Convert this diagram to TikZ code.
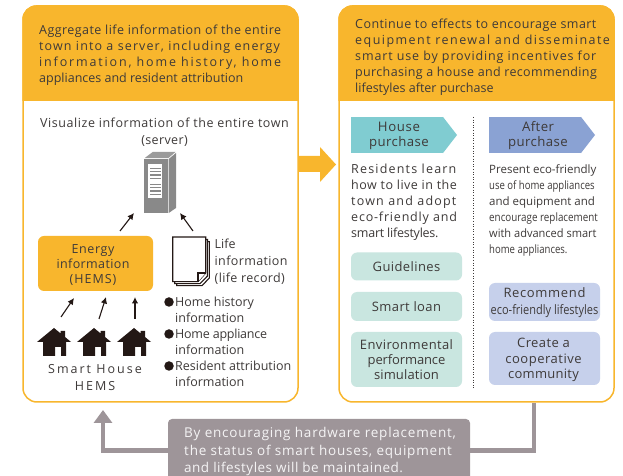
\documentclass[tikz,border=0pt]{standalone}
\usepackage{fontspec}
\setmainfont{Open Sans}
\usetikzlibrary{positioning,arrows,arrows.meta,shapes.geometric}
\definecolor{orangefill}{HTML}{F8B62D}
\definecolor{greyfill}{HTML}{9E9599}
\definecolor{tealfill}{HTML}{80CCD1}
\definecolor{bluefill}{HTML}{8AA2D3}
\definecolor{mintfill}{HTML}{C9E6E0}
\definecolor{paleblue}{HTML}{C6D0EB}
\definecolor{inkcol}{HTML}{3E3A39}
\definecolor{housecol}{HTML}{231815}
\definecolor{servercol}{HTML}{898989}
\def\ls#1#2{{\addfontfeature{LetterSpace=#1}#2}}
\def\nw#1#2{{\addfontfeature{FakeStretch=#1}#2}}
\tikzset{
  panel/.style={draw=orangefill,line width=1.5bp,fill=white,rounded corners=14bp,minimum width=275bp,minimum height=396bp},
  txt/.style={inner sep=0pt,text=inkcol,font=\fontsize{12.5bp}{16bp}\selectfont},
  tag/.style={inner sep=0pt,text=inkcol,align=center,font=\fontsize{12.5bp}{15bp}\selectfont},
  stage/.style={tag,font=\fontsize{13.2bp}{15bp}\selectfont},
  softbox/.style={tag,rounded corners=6bp,minimum width=111bp,font=\fontsize{13bp}{15bp}\selectfont},
  feedback/.style={line width=4.5bp,draw=greyfill},
  smallarrow/.style={-{Latex[length=6.5bp,width=6.5bp]},line width=1.1bp,draw=housecol},
  sheet/.style={draw=housecol,line width=1.1bp,fill=white},
}
\def\smarthouse#1{%
  \begin{scope}[shift={(#1)}]
    \fill[housecol] (-17bp,6bp) -- (0bp,20bp) -- (6.7bp,14.5bp) -- (6.7bp,17bp) -- (11bp,17bp) -- (11bp,11bp) -- (17bp,6bp) -- (12bp,6bp) -- (12bp,-8bp) -- (7bp,-8bp) -- (7bp,1bp) -- (1bp,1bp) -- (1bp,-8bp) -- (-11bp,-8bp) -- (-11bp,6bp) -- cycle;
  \end{scope}}
\begin{document}
\begin{tikzpicture}
  \useasboundingbox (0bp,0bp) rectangle (623bp,476bp);
  %% panels
  \node (leftpanel) at (160.5bp,272bp) [panel] {};
  \node (rightpanel) at (476.5bp,272bp) [panel] {};
  \fill[orangefill] (22.25bp,375bp) [rounded corners=14bp] -- (22.25bp,470.75bp) -- (298.75bp,470.75bp) [sharp corners] -- (298.75bp,375bp) -- cycle;
  \fill[orangefill] (338.25bp,375bp) [rounded corners=14bp] -- (338.25bp,470.75bp) -- (614.75bp,470.75bp) [sharp corners] -- (614.75bp,375bp) -- cycle;
  %% arrow between the panels
  \fill[orangefill] (298bp,304bp) -- (320bp,304bp) -- (320bp,294bp) -- (336bp,311.5bp) -- (320bp,329bp) -- (320bp,320bp) -- (298bp,320bp) -- cycle;
  %% header texts
  \node (lefthead) at (39bp,421bp) [txt,anchor=west,align=left] {%
    \ls{3.6}{Aggregate life information of the entire}\\
    \ls{8.9}{town into a server, including energy}\\
    \ls{14.7}{information, home history, home}\\
    \ls{0}{appliances and resident attribution}};
  \node (righthead) at (355bp,419bp) [txt,anchor=west,align=left] {%
    \ls{3.5}{Continue to effects to encourage smart}\\
    \ls{11.6}{equipment renewal and disseminate}\\
    \ls{6.9}{smart use by providing incentives for}\\
    \ls{2.8}{purchasing a house and recommending}\\
    \ls{0}{lifestyles after purchase}};
  %% left panel
  \node (townlabel) at (164.5bp,343.5bp) [tag,font=\fontsize{12.5bp}{17bp}\selectfont] {\ls{4.4}{Visualize information of the entire town}\\\ls{3}{(server)}};
  \fill[servercol] (144bp,263bp) rectangle (167.7bp,317bp);
  \fill[servercol] (168.7bp,263bp) -- (176bp,268bp) -- (176bp,323bp) -- (168.7bp,317bp) -- cycle;
  \fill[servercol!85] (144.5bp,317.8bp) -- (168.2bp,317.8bp) -- (175.5bp,324bp) -- (152.7bp,324bp) -- cycle;
  \node (server) at (155.2bp,295bp) [fill=white,inner sep=0pt,minimum width=13.8bp,minimum height=34bp] {};
  \foreach \y in {307.5,304.3,301,297.8,291.5,288.3,285,281.8}
    \draw[servercol,line width=1.3bp] (150bp,\y bp) -- (160.7bp,\y bp);
  \coordinate (serverl) at (134bp,263bp);
  \coordinate (serverr) at (180bp,263bp);
  \coordinate (energyfrom) at (120bp,245bp);
  \coordinate (lifefrom) at (193bp,245bp);
  \draw[smallarrow] (energyfrom) -- (serverl);
  \draw[smallarrow] (lifefrom) -- (serverr);
  \node (energy) at (95.5bp,212.5bp) [fill=orangefill,rounded corners=6bp,minimum width=115bp,minimum height=55bp,inner sep=0pt] {};
  \node (energylabel) at (93bp,211bp) [tag] {\ls{5}{Energy}\\\ls{3}{information}\\\ls{8}{(HEMS)}};
  %% life record sheets
  \draw[sheet] (176.7bp,190.3bp) -- (202bp,190.3bp) -- (209.3bp,198bp) -- (209.3bp,234.3bp) -- (176.7bp,234.3bp) -- cycle;
  \draw[sheet] (174.7bp,192.3bp) -- (200bp,192.3bp) -- (207.5bp,200bp) -- (207.5bp,236.5bp) -- (174.7bp,236.5bp) -- cycle;
  \draw[sheet] (172.7bp,194.3bp) -- (198bp,194.3bp) -- (205.7bp,203bp) -- (205.7bp,239bp) -- (172.7bp,239bp) -- cycle;
  \draw[sheet] (198bp,194.3bp) -- (198bp,203bp) -- (205.7bp,203bp);
  \node (lifelabel) at (214.5bp,214bp) [txt,anchor=west,align=left,font=\fontsize{12.5bp}{17bp}\selectfont] {Life\\\ls{3}{information}\\\ls{3}{(life record)}};
  \node (bullets) at (175bp,134bp) [txt,anchor=west,align=left] {%
    Home history\\information\\\ls{-2}{Home appliance}\\information\\Resident attribution\\information};
  \foreach \y/\name in {174/hist,142/appl,110/attr}
    \node (\name) at (169bp,\y bp) [circle,fill=housecol,inner sep=0pt,minimum size=9.5bp] {};
  \foreach \x/\y/\tx/\ty/\name in {61/159/74/178/a,99/157/106/179/b,135/157/135/179/c}{
    \coordinate (house\name) at (\x bp,\y bp);
    \coordinate (hems\name) at (\tx bp,\ty bp);
    \draw[smallarrow] (house\name) -- (hems\name);
  }
  \smarthouse{54bp,128bp}
  \smarthouse{94bp,128bp}
  \smarthouse{134bp,128bp}
  \node (smarthems) at (95bp,98.5bp) [tag,font=\fontsize{12.5bp}{17bp}\selectfont] {\ls{16}{Smart House}\\\ls{16}{HEMS}};
  %% right panel
  \draw[inkcol,line width=1bp,dash pattern=on 1bp off 1.6bp] (473bp,359bp) -- (473bp,88bp);
  \node (housepurchase) at (351bp,341bp) [anchor=west,fill=tealfill,minimum height=36bp,minimum width=92bp,inner sep=0pt] {};
  \fill[tealfill] ([xshift=-0.5bp]housepurchase.north east) -- (457bp,341bp) -- ([xshift=-0.5bp]housepurchase.south east) -- cycle;
  \node (afterpurchase) at (489bp,341bp) [anchor=west,fill=bluefill,minimum height=36bp,minimum width=92bp,inner sep=0pt] {};
  \fill[bluefill] ([xshift=-0.5bp]afterpurchase.north east) -- (595bp,341bp) -- ([xshift=-0.5bp]afterpurchase.south east) -- cycle;
  \node (housetag) at (399bp,340.5bp) [stage] {\ls{5}{House}\\\ls{3}{purchase}};
  \node (aftertag) at (538bp,340.5bp) [stage] {\ls{3}{After}\\\ls{3}{purchase}};
  \node (housetext) at (351bp,274bp) [txt,anchor=west,align=left] {%
    \ls{9.5}{Residents learn}\\
    \ls{4}{how to live in the}\\
    \ls{9.5}{town and adopt}\\
    \ls{6.5}{eco-friendly and}\\
    \ls{-2}{smart lifestyles.}};
  \node (aftertext) at (489bp,266bp) [txt,anchor=west,align=left,font=\fontsize{11.5bp}{16bp}\selectfont] {%
    Present eco-friendly\\
    \nw{0.83}{use of home appliances}\\
    and equipment and\\
    \nw{0.855}{encourage replacement}\\
    \nw{0.96}{with advanced smart}\\
    \nw{0.83}{home appliances.}};
  \node (guide) at (406.5bp,209.5bp) [softbox,fill=mintfill,minimum height=28bp] {\ls{3}{Guidelines}};
  \node (loan) at (406.5bp,169.5bp) [softbox,fill=mintfill,minimum height=29bp] {\ls{3}{Smart loan}};
  \node (simulation) at (406.5bp,116.5bp) [softbox,fill=mintfill,minimum height=55bp] {\ls{3}{Environmental}\\\ls{-1}{performance}\\\ls{1}{simulation}};
  \node (recommend) at (544.5bp,174bp) [softbox,fill=paleblue,minimum height=38bp] {};
  \node (recommendlabel) at (544.5bp,173.5bp) [tag,font=\fontsize{13bp}{17bp}\selectfont] {\ls{5}{Recommend}\\\nw{0.845}{eco-friendly lifestyles}};
  \node (community) at (544.5bp,117.5bp) [softbox,fill=paleblue,minimum height=53bp] {};
  \node (communitylabel) at (543.5bp,116bp) [tag,font=\fontsize{13bp}{15.5bp}\selectfont] {\ls{3}{Create a}\\\ls{4}{cooperative}\\\ls{2}{community}};
  %% feedback loop
  \fill[greyfill] (168bp,0bp) [rounded corners=4bp] -- (168bp,57bp) -- (470bp,57bp) [sharp corners] -- (470bp,0bp) -- cycle;
  \node (status) at (319bp,28.5bp) [minimum width=302bp,minimum height=57bp,inner sep=0pt] {};
  \node (statustext) at (184bp,24.5bp) [txt,anchor=west,align=left,text=white!90!greyfill,font=\fontsize{13.5bp}{17.5bp}\selectfont] {%
    \ls{5.8}{By encouraging hardware replacement,}\\
    \ls{5.8}{the status of smart houses, equipment}\\
    \ls{3.7}{and lifestyles will be maintained.}};
  \coordinate (turnl) at (103bp,25.5bp);
  \coordinate (tipl) at (103bp,66bp);
  \coordinate (turnr) at (534bp,25.5bp);
  \draw[feedback,-{Triangle[width=18bp,length=13bp]}] (status.west |- turnl) -- (turnl) -- (tipl);
  \draw[feedback] (status.east |- turnr) -- (turnr) -- (rightpanel.south -| turnr);
\end{tikzpicture}
\end{document}
